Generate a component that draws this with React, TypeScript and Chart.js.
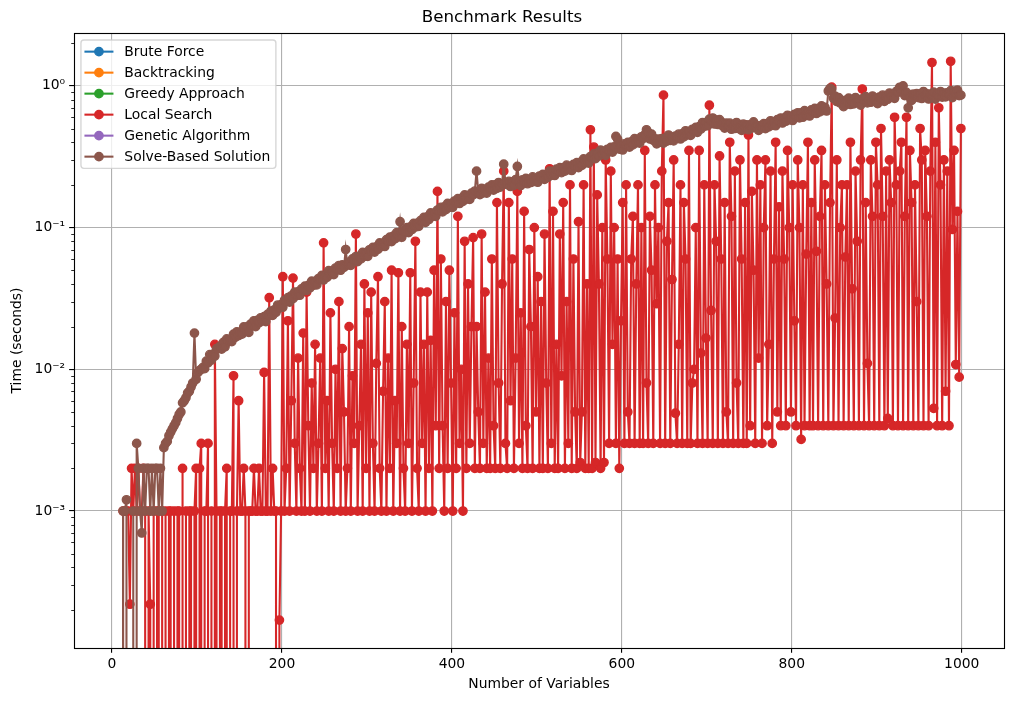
import React, { useEffect, useRef } from 'react';
import { Chart, registerables } from 'chart.js';

Chart.register(...registerables);

// ---------------- data ----------------
const numVariables = [
  5, 7, 9, 11, 13, 15, 17, 19, 21, 23,
  25, 27, 29, 31, 33, 35, 37, 39, 41, 43,
  45, 47, 49, 51, 53, 55, 57, 59, 61, 63,
  65, 67, 69, 71, 73, 75, 77, 79, 81, 83,
  85, 87, 89, 91, 93, 95, 97, 99, 101, 103,
  105, 107, 109, 111, 113, 115, 117, 119, 121, 123,
  125, 127, 129, 131, 133, 135, 137, 139, 141, 143,
  145, 147, 149, 151, 153, 155, 157, 159, 161, 163,
  165, 167, 169, 171, 173, 175, 177, 179, 181, 183,
  185, 187, 189, 191, 193, 195, 197, 199, 201, 203,
  205, 207, 209, 211, 213, 215, 217, 219, 221, 223,
  225, 227, 229, 231, 233, 235, 237, 239, 241, 243,
  245, 247, 249, 251, 253, 255, 257, 259, 261, 263,
  265, 267, 269, 271, 273, 275, 277, 279, 281, 283,
  285, 287, 289, 291, 293, 295, 297, 299, 301, 303,
  305, 307, 309, 311, 313, 315, 317, 319, 321, 323,
  325, 327, 329, 331, 333, 335, 337, 339, 341, 343,
  345, 347, 349, 351, 353, 355, 357, 359, 361, 363,
  365, 367, 369, 371, 373, 375, 377, 379, 381, 383,
  385, 387, 389, 391, 393, 395, 397, 399, 401, 403,
  405, 407, 409, 411, 413, 415, 417, 419, 421, 423,
  425, 427, 429, 431, 433, 435, 437, 439, 441, 443,
  445, 447, 449, 451, 453, 455, 457, 459, 461, 463,
  465, 467, 469, 471, 473, 475, 477, 479, 481, 483,
  485, 487, 489, 491, 493, 495, 497, 499, 501, 503,
  505, 507, 509, 511, 513, 515, 517, 519, 521, 523,
  525, 527, 529, 531, 533, 535, 537, 539, 541, 543,
  545, 547, 549, 551, 553, 555, 557, 559, 561, 563,
  565, 567, 569, 571, 573, 575, 577, 579, 581, 583,
  585, 587, 589, 591, 593, 595, 597, 599, 601, 603,
  605, 607, 609, 611, 613, 615, 617, 619, 621, 623,
  625, 627, 629, 631, 633, 635, 637, 639, 641, 643,
  645, 647, 649, 651, 653, 655, 657, 659, 661, 663,
  665, 667, 669, 671, 673, 675, 677, 679, 681, 683,
  685, 687, 689, 691, 693, 695, 697, 699, 701, 703,
  705, 707, 709, 711, 713, 715, 717, 719, 721, 723,
  725, 727, 729, 731, 733, 735, 737, 739, 741, 743,
  745, 747, 749, 751, 753, 755, 757, 759, 761, 763,
  765, 767, 769, 771, 773, 775, 777, 779, 781, 783,
  785, 787, 789, 791, 793, 795, 797, 799, 801, 803,
  805, 807, 809, 811, 813, 815, 817, 819, 821, 823,
  825, 827, 829, 831, 833, 835, 837, 839, 841, 843,
  845, 847, 849, 851, 853, 855, 857, 859, 861, 863,
  865, 867, 869, 871, 873, 875, 877, 879, 881, 883,
  885, 887, 889, 891, 893, 895, 897, 899, 901, 903,
  905, 907, 909, 911, 913, 915, 917, 919, 921, 923,
  925, 927, 929, 931, 933, 935, 937, 939, 941, 943,
  945, 947, 949, 951, 953, 955, 957, 959, 961, 963,
  965, 967, 969, 971, 973, 975, 977, 979, 981, 983,
  985, 987, 989, 991, 993, 995, 997, 999,
];

// series that are listed in the legend but show no visible marks
const bruteForce: number[] = [];
const backtracking: number[] = [];
const greedyApproach: number[] = [];
const geneticAlgorithm: number[] = [];

const localSearch = [
  0, 0, 0, 0, 0.001, 0.001, 0.001, 0.001, 0.00022, 0.002,
  0.001, 0.002, 0.001, 0.002, 0.001, 0.001, 0.002, 0.001, 0, 0.001,
  0.00022, 0, 0.001, 0, 0.001, 0.001, 0, 0.001, 0, 0.001,
  0, 0.001, 0.001, 0, 0.001, 0, 0.001, 0.001, 0, 0.002,
  0, 0.001, 0, 0.001, 0.001, 0, 0.001, 0.002, 0, 0.002,
  0.003, 0, 0.001, 0.001, 0.003, 0, 0.001, 0, 0.015, 0.001,
  0, 0.001, 0.001, 0, 0.001, 0.002, 0, 0.001, 0.001, 0.009,
  0, 0.001, 0.006, 0.001, 0.001, 0.002, 0.001, 0, 0.001, 0.001,
  0.001, 0.002, 0.001, 0.001, 0.002, 0.001, 0.001, 0.0095, 0.001, 0.001,
  0.032, 0.001, 0.002, 0.001, 0.001, 0, 0.00017, 0.001, 0.045, 0.001,
  0.002, 0.022, 0.001, 0.006, 0.044, 0.003, 0.001, 0.012, 0.002, 0.001,
  0.018, 0.001, 0.035, 0.004, 0.001, 0.008, 0.002, 0.015, 0.001, 0.003,
  0.012, 0.001, 0.078, 0.002, 0.006, 0.001, 0.025, 0.003, 0.001, 0.01,
  0.002, 0.03, 0.001, 0.014, 0.005, 0.001, 0.002, 0.02, 0.001, 0.009,
  0.003, 0.09, 0.001, 0.004, 0.015, 0.001, 0.04, 0.002, 0.025, 0.001,
  0.035, 0.003, 0.001, 0.011, 0.045, 0.002, 0.001, 0.007, 0.03, 0.001,
  0.012, 0.002, 0.05, 0.001, 0.006, 0.003, 0.048, 0.001, 0.02, 0.002,
  0.001, 0.015, 0.003, 0.048, 0.001, 0.008, 0.08, 0.002, 0.001, 0.035,
  0.003, 0.015, 0.001, 0.035, 0.002, 0.016, 0.001, 0.05, 0.004, 0.18,
  0.002, 0.06, 0.004, 0.001, 0.03, 0.002, 0.05, 0.008, 0.001, 0.025,
  0.002, 0.12, 0.003, 0.01, 0.001, 0.08, 0.002, 0.04, 0.003, 0.02,
  0.085, 0.002, 0.02, 0.005, 0.002, 0.09, 0.003, 0.035, 0.002, 0.012,
  0.002, 0.06, 0.004, 0.002, 0.15, 0.008, 0.002, 0.04, 0.25, 0.003,
  0.002, 0.15, 0.006, 0.06, 0.002, 0.012, 0.18, 0.003, 0.025, 0.002,
  0.13, 0.004, 0.002, 0.07, 0.02, 0.002, 0.1, 0.005, 0.045, 0.002,
  0.03, 0.002, 0.09, 0.008, 0.002, 0.26, 0.003, 0.13, 0.002, 0.015,
  0.002, 0.09, 0.009, 0.15, 0.002, 0.03, 0.003, 0.2, 0.002, 0.06,
  0.005, 0.002, 0.11, 0.0022, 0.005, 0.2, 0.002, 0.04, 0.002, 0.49,
  0.002, 0.37, 0.0022, 0.17, 0.04, 0.002, 0.1, 0.0022, 0.3, 0.06,
  0.003, 0.25, 0.015, 0.1, 0.003, 0.06, 0.002, 0.022, 0.15, 0.003,
  0.2, 0.005, 0.003, 0.06, 0.12, 0.003, 0.04, 0.2, 0.003, 0.1,
  0.003, 0.35, 0.008, 0.003, 0.12, 0.05, 0.003, 0.2, 0.029, 0.1,
  0.003, 0.25, 0.86, 0.003, 0.08, 0.15, 0.003, 0.043, 0.3, 0.0049,
  0.003, 0.015, 0.2, 0.003, 0.15, 0.06, 0.003, 0.35, 0.003, 0.008,
  0.01, 0.1, 0.003, 0.35, 0.013, 0.003, 0.2, 0.0166, 0.003, 0.73,
  0.026, 0.003, 0.2, 0.08, 0.003, 0.32, 0.06, 0.003, 0.15, 0.005,
  0.003, 0.4, 0.12, 0.003, 0.25, 0.008, 0.003, 0.3, 0.06, 0.003,
  0.15, 0.003, 0.45, 0.004, 0.18, 0.05, 0.003, 0.3, 0.012, 0.2,
  0.003, 0.1, 0.3, 0.004, 0.015, 0.25, 0.003, 0.06, 0.4, 0.005,
  0.14, 0.004, 0.25, 0.06, 0.004, 0.35, 0.1, 0.005, 0.2, 0.022,
  0.004, 0.3, 0.1, 0.0032, 0.2, 0.004, 0.065, 0.4, 0.004, 0.15,
  0.004, 0.3, 0.068, 0.004, 0.12, 0.35, 0.004, 0.2, 0.04, 0.004,
  0.15, 0.98, 0.004, 0.023, 0.3, 0.004, 0.1, 0.2, 0.004, 0.062,
  0.2, 0.004, 0.4, 0.037, 0.004, 0.25, 0.08, 0.004, 0.3, 0.95,
  0.004, 0.15, 0.011, 0.004, 0.3, 0.12, 0.004, 0.4, 0.2, 0.004,
  0.5, 0.12, 0.004, 0.25, 0.0045, 0.3, 0.15, 0.004, 0.6, 0.2,
  0.004, 0.25, 0.4, 0.004, 0.12, 0.6, 0.004, 0.35, 0.15, 0.004,
  0.2, 0.03, 0.004, 0.5, 0.3, 0.004, 0.35, 0.12, 0.004, 0.25,
  1.46, 0.0053, 0.4, 0.004, 0.7, 0.2, 0.004, 0.3, 0.007, 0.25,
  0.004, 1.49, 0.097, 0.35, 0.0108, 0.13, 0.0088, 0.5,
];

const solveBased = [
  0, 0, 0, 0, 0.001, 0.001, 0.0012, 0, 0, 0,
  0.001, 0, 0.003, 0.002, 0.001, 0.0007, 0.002, 0.001, 0.002, 0.002,
  0.001, 0.002, 0.001, 0.002, 0.002, 0.001, 0.002, 0.001, 0.0028, 0.003,
  0.0031, 0.0034, 0.0036, 0.0038, 0.004, 0.0042, 0.0045, 0.0048, 0.005, 0.0058,
  0.006, 0.0063, 0.0068, 0.007, 0.0075, 0.008, 0.018, 0.0085, 0.0095, 0.0098,
  0.01, 0.0103, 0.0101, 0.0114, 0.0111, 0.0127, 0.0116, 0.0128, 0.0124, 0.014,
  0.014, 0.0145, 0.0139, 0.0155, 0.0144, 0.0164, 0.0157, 0.0161, 0.0157, 0.0177,
  0.0168, 0.0184, 0.0173, 0.0181, 0.0177, 0.0199, 0.0186, 0.0199, 0.0182, 0.0208,
  0.0205, 0.022, 0.02, 0.0221, 0.0213, 0.0231, 0.022, 0.0235, 0.0217, 0.0244,
  0.024, 0.0257, 0.024, 0.0263, 0.0252, 0.0284, 0.027, 0.0286, 0.0274, 0.0307,
  0.03, 0.032, 0.0298, 0.033, 0.0315, 0.035, 0.0331, 0.0352, 0.0333, 0.0369,
  0.036, 0.0386, 0.036, 0.0391, 0.0376, 0.0419, 0.0392, 0.0416, 0.0394, 0.0437,
  0.043, 0.046, 0.0427, 0.0464, 0.0446, 0.0496, 0.0466, 0.049, 0.0466, 0.0518,
  0.0505, 0.054, 0.05, 0.0546, 0.0524, 0.07, 0.0544, 0.0571, 0.0542, 0.0601,
  0.0585, 0.0625, 0.0576, 0.0628, 0.0601, 0.0668, 0.0627, 0.0663, 0.0627, 0.0697,
  0.068, 0.0725, 0.0672, 0.0731, 0.0703, 0.0779, 0.0735, 0.0775, 0.0736, 0.0822,
  0.08, 0.0856, 0.0797, 0.087, 0.0834, 0.0922, 0.0862, 0.11, 0.0855, 0.0952,
  0.093, 0.0998, 0.0922, 0.101, 0.097, 0.107, 0.101, 0.107, 0.102, 0.112,
  0.11, 0.118, 0.109, 0.119, 0.114, 0.127, 0.12, 0.126, 0.12, 0.133,
  0.13, 0.139, 0.129, 0.14, 0.134, 0.148, 0.139, 0.147, 0.139, 0.154,
  0.15, 0.16, 0.148, 0.161, 0.153, 0.17, 0.159, 0.167, 0.158, 0.175,
  0.17, 0.181, 0.25, 0.179, 0.171, 0.189, 0.176, 0.186, 0.175, 0.193,
  0.188, 0.2, 0.184, 0.2, 0.189, 0.208, 0.193, 0.202, 0.28, 0.208,
  0.201, 0.212, 0.195, 0.21, 0.199, 0.218, 0.27, 0.211, 0.198, 0.217,
  0.21, 0.222, 0.204, 0.219, 0.208, 0.228, 0.212, 0.222, 0.209, 0.231,
  0.224, 0.237, 0.219, 0.237, 0.226, 0.25, 0.234, 0.247, 0.233, 0.258,
  0.25, 0.265, 0.244, 0.264, 0.25, 0.276, 0.257, 0.269, 0.253, 0.279,
  0.27, 0.287, 0.265, 0.288, 0.275, 0.305, 0.286, 0.302, 0.285, 0.317,
  0.31, 0.331, 0.307, 0.335, 0.32, 0.352, 0.328, 0.345, 0.323, 0.357,
  0.346, 0.368, 0.341, 0.371, 0.44, 0.42, 0.358, 0.377, 0.353, 0.39,
  0.378, 0.399, 0.37, 0.402, 0.383, 0.424, 0.397, 0.418, 0.394, 0.437,
  0.425, 0.452, 0.49, 0.47, 0.422, 0.456, 0.412, 0.423, 0.39, 0.421,
  0.4, 0.425, 0.394, 0.427, 0.407, 0.45, 0.412, 0.434, 0.409, 0.442,
  0.43, 0.457, 0.422, 0.458, 0.437, 0.482, 0.451, 0.474, 0.447, 0.494,
  0.48, 0.509, 0.47, 0.515, 0.495, 0.551, 0.519, 0.551, 0.523, 0.582,
  0.57, 0.593, 0.538, 0.572, 0.534, 0.578, 0.529, 0.546, 0.504, 0.546,
  0.52, 0.546, 0.494, 0.525, 0.5, 0.551, 0.5, 0.515, 0.485, 0.536,
  0.51, 0.53, 0.49, 0.53, 0.504, 0.557, 0.51, 0.525, 0.485, 0.525,
  0.51, 0.541, 0.499, 0.541, 0.514, 0.567, 0.529, 0.556, 0.523, 0.577,
  0.56, 0.593, 0.547, 0.592, 0.563, 0.62, 0.578, 0.607, 0.57, 0.629,
  0.61, 0.646, 0.595, 0.644, 0.601, 0.668, 0.622, 0.653, 0.613, 0.676,
  0.655, 0.693, 0.638, 0.69, 0.655, 0.721, 0.671, 0.704, 0.665, 0.92,
  0.96, 0.945, 0.816, 0.845, 0.776, 0.827, 0.755, 0.775, 0.713, 0.79,
  0.77, 0.819, 0.739, 0.783, 0.747, 0.827, 0.774, 0.796, 0.731, 0.811,
  0.79, 0.84, 0.758, 0.803, 0.766, 0.848, 0.794, 0.816, 0.75, 0.832,
  0.81, 0.861, 0.778, 0.845, 0.805, 0.89, 0.833, 0.857, 0.817, 0.915,
  0.9, 0.977, 0.931, 1.0, 0.854, 0.9, 0.7, 0.836, 0.789, 0.874,
  0.85, 0.882, 0.826, 0.876, 0.815, 0.912, 0.853, 0.877, 0.808, 0.874,
  0.85, 0.903, 0.806, 0.876, 0.844, 0.912, 0.833, 0.887, 0.836, 0.894,
  0.87, 0.924, 0.826, 0.917, 0.873, 0.933, 0.853, 0.86,
];

const seriesLabels = ['Brute Force', 'Backtracking', 'Greedy Approach', 'Local Search', 'Genetic Algorithm', 'Solve-Based Solution'];
const seriesColors = ['#1f77b4', '#ff7f0e', '#2ca02c', '#d62728', '#9467bd', '#8c564b'];
const seriesValues = [bruteForce, backtracking, greedyApproach, localSearch, geneticAlgorithm, solveBased];

const xTickValues = [0, 200, 400, 600, 800, 1000];
const yTickValues = [0.001, 0.01, 0.1, 1];
const yTickLabels = ['10\u207B\u00B3', '10\u207B\u00B2', '10\u207B\u00B9', '10\u2070'];

// ---------------- styling ----------------
const PT = 100 / 72;
const FONT = "'DejaVu Sans', 'Liberation Sans', sans-serif";
const X_MIN = -44.75;
const X_MAX = 1049.75;
const Y_MIN = 1.08e-4;
const Y_MAX = 2.36;

// matplotlib sends non-positive values on a log axis far below the axes
const toPoints = (vals: number[]) =>
  vals.map((v, i) => ({ x: numVariables[i], y: v > 0 ? v : 1e-300 }));

const framePlugin = {
  id: 'mplFrame',
  afterDatasetsDraw(chart: any) {
    const { ctx, chartArea } = chart;
    const { left, right, top, bottom } = chartArea;
    const yScale = chart.scales.y;
    ctx.save();
    // minor ticks on the log axis
    ctx.strokeStyle = '#000';
    ctx.lineWidth = 0.6 * PT;
    for (let e = -5; e <= 1; e++) {
      for (let k = 2; k <= 9; k++) {
        const v = k * Math.pow(10, e);
        if (v <= Y_MIN || v >= Y_MAX) continue;
        const y = Math.round(yScale.getPixelForValue(v)) + 0.5;
        ctx.beginPath();
        ctx.moveTo(left - 2 * PT, y);
        ctx.lineTo(left, y);
        ctx.stroke();
      }
    }
    // spines
    ctx.lineWidth = 0.8 * PT;
    ctx.strokeStyle = '#000';
    ctx.strokeRect(Math.round(left) + 0.5, Math.round(top) + 0.5, Math.round(right - left), Math.round(bottom - top));

    // legend (upper left, matplotlib style)
    const fs = 10 * PT;
    ctx.font = `${fs}px ${FONT}`;
    let maxW = 0;
    seriesLabels.forEach((l) => { maxW = Math.max(maxW, ctx.measureText(l).width); });
    const L = left + 0.5 * fs;
    const T = top + 0.5 * fs;
    const textX = L + 43.4;
    const W = textX - L + maxW + 5.6;
    const rowH = 21;
    const H = 11.7 * 2 + rowH * (seriesLabels.length - 1);
    const r = 3;
    ctx.beginPath();
    ctx.moveTo(L + r, T);
    ctx.lineTo(L + W - r, T);
    ctx.quadraticCurveTo(L + W, T, L + W, T + r);
    ctx.lineTo(L + W, T + H - r);
    ctx.quadraticCurveTo(L + W, T + H, L + W - r, T + H);
    ctx.lineTo(L + r, T + H);
    ctx.quadraticCurveTo(L, T + H, L, T + H - r);
    ctx.lineTo(L, T + r);
    ctx.quadraticCurveTo(L, T, L + r, T);
    ctx.closePath();
    ctx.fillStyle = 'rgba(255,255,255,0.8)';
    ctx.fill();
    ctx.lineWidth = 1 * PT;
    ctx.strokeStyle = 'rgba(204,204,204,0.8)';
    ctx.stroke();
    seriesLabels.forEach((label, i) => {
      const cy = T + 11.7 + i * rowH;
      const color = seriesColors[i];
      ctx.strokeStyle = color;
      ctx.lineWidth = 1.5 * PT;
      ctx.beginPath();
      ctx.moveTo(L + 3.5, cy);
      ctx.lineTo(L + 32.5, cy);
      ctx.stroke();
      ctx.beginPath();
      ctx.arc(L + 18, cy, 3 * PT, 0, Math.PI * 2);
      ctx.fillStyle = color;
      ctx.fill();
      ctx.lineWidth = 1 * PT;
      ctx.stroke();
      ctx.fillStyle = '#000';
      ctx.textBaseline = 'middle';
      ctx.textAlign = 'left';
      ctx.fillText(label, textX, cy + 0.5);
    });
    ctx.restore();
  },
};

export default function App() {
  const canvasRef = useRef<HTMLCanvasElement | null>(null);

  useEffect(() => {
    document.body.style.margin = '0';
    const canvas = canvasRef.current;
    if (!canvas) return;
    Chart.defaults.font.family = FONT;
    Chart.defaults.color = '#000';

    const datasets = seriesLabels.map((label, i) => ({
      label,
      data: toPoints(seriesValues[i]),
      borderColor: seriesColors[i],
      backgroundColor: seriesColors[i],
      pointBackgroundColor: seriesColors[i],
      pointBorderColor: seriesColors[i],
      borderWidth: 1.5 * PT,
      pointRadius: 3 * PT,
      pointBorderWidth: 1 * PT,
      pointHoverRadius: 3 * PT,
      tension: 0,
      order: seriesLabels.length - 1 - i,
    }));

    const chart = new Chart(canvas, {
      type: 'line',
      data: { datasets },
      options: {
        responsive: false,
        animation: false,
        devicePixelRatio: 1,
        layout: { padding: { left: 0, right: 8, top: 0, bottom: 0 } },
        events: [],
        plugins: {
          legend: { display: false },
          tooltip: { enabled: false },
          title: {
            display: true,
            text: 'Benchmark Results',
            color: '#000',
            font: { size: 12 * PT, weight: 'normal', family: FONT },
            padding: { top: 8, bottom: 5 },
          },
        },
        scales: {
          x: {
            type: 'linear',
            min: X_MIN,
            max: X_MAX,
            afterBuildTicks: (s: any) => { s.ticks = xTickValues.map((v) => ({ value: v })); },
            afterFit: (s: any) => { s.height = 53; },
            ticks: {
              autoSkip: false,
              maxRotation: 0,
              padding: 3,
              color: '#000',
              font: { size: 10 * PT, family: FONT },
              callback: (v: any) => String(v),
            },
            grid: {
              color: '#b0b0b0',
              lineWidth: 0.8 * PT,
              tickColor: '#000',
              tickLength: 3.5 * PT,
              tickWidth: 0.8 * PT,
            },
            border: { display: false },
            title: {
              display: true,
              text: 'Number of Variables',
              color: '#000',
              font: { size: 10 * PT, family: FONT },
              padding: { top: 0, bottom: 8 },
            },
          },
          y: {
            type: 'logarithmic',
            min: Y_MIN,
            max: Y_MAX,
            afterBuildTicks: (s: any) => { s.ticks = yTickValues.map((v) => ({ value: v })); },
            afterFit: (s: any) => { s.width = 74; },
            ticks: {
              autoSkip: false,
              padding: 4,
              color: '#000',
              font: { size: 10 * PT, family: FONT },
              callback: (v: any) => {
                const idx = yTickValues.findIndex((t) => Math.abs(Math.log10(t) - Math.log10(v)) < 1e-6);
                return idx >= 0 ? yTickLabels[idx] : '';
              },
            },
            grid: {
              color: '#b0b0b0',
              lineWidth: 0.8 * PT,
              tickColor: '#000',
              tickLength: 3.5 * PT,
              tickWidth: 0.8 * PT,
            },
            border: { display: false },
            title: {
              display: true,
              text: 'Time (seconds)',
              color: '#000',
              font: { size: 10 * PT, family: FONT },
              padding: { top: 9, bottom: 0 },
            },
          },
        },
      } as any,
      plugins: [framePlugin],
    });

    return () => chart.destroy();
  }, []);

  return (
    <div style={{ width: 1012, height: 701 }}>
      <canvas ref={canvasRef} width={1012} height={701} style={{ display: 'block' }} />
    </div>
  );
}
